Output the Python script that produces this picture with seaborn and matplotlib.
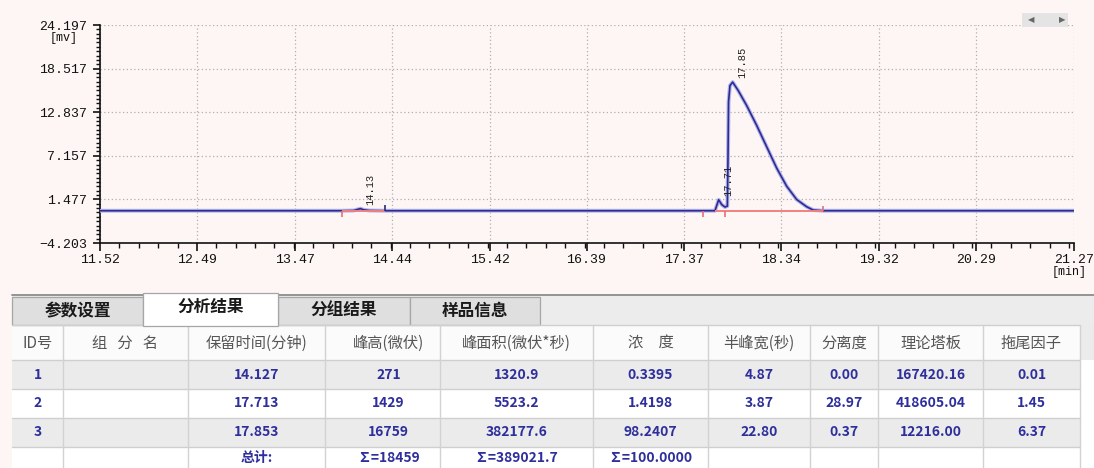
import matplotlib
matplotlib.use("Agg")
import matplotlib.pyplot as plt
from matplotlib.patches import Rectangle
from matplotlib.ticker import AutoMinorLocator
import pandas as pd
import seaborn as sns

# ---------------- chromatogram trace (min, mV) ----------------
time_min = [11.52, 13.94, 14.06, 14.10, 14.127, 14.16, 14.22, 14.37,
            17.55, 17.676, 17.713, 17.743, 17.776, 17.800, 17.806, 17.812,
            17.826, 17.853, 17.909, 17.993, 18.093, 18.193, 18.294, 18.394,
            18.494, 18.594, 18.66, 18.76, 21.27]
signal_mv = [0.0, 0.0, 0.03, 0.18, 0.271, 0.12, 0.03, 0.0,
             0.0, 0.0, 1.429, 0.81, 0.48, 0.60, 6.4, 14.2,
             16.3, 16.759, 15.65, 13.71, 11.13, 8.35, 5.55, 3.19,
             1.46, 0.52, 0.09, 0.0, 0.0]

# integration baselines and event marks
baseline_start = [13.94, 17.68]
baseline_end = [14.37, 18.76]
event_time = [13.94, 14.37, 17.556, 17.776, 18.757]
event_side = [-0.8, 0.7, -0.8, -0.8, 0.6]
event_color = ["#e87070", "#2a2a80", "#e87070", "#e87070", "#e87070"]

x_tick_labels = ["11.52", "12.49", "13.47", "14.44", "15.42", "16.39",
                 "17.37", "18.34", "19.32", "20.29", "21.27"]
y_tick_labels = ["-4.203", "1.477", "7.157", "12.837", "18.517", "24.197"]

# ---------------- peak table ----------------
peak_id = [1, 2, 3]
peak_rt = [14.127, 17.713, 17.853]
peak_height_uv = [271, 1429, 16759]
peak_area = [1320.9, 5523.2, 382177.6]
peak_conc = [0.3395, 1.4198, 98.2407]
half_width_s = [4.87, 3.87, 22.80]
resolution = [0.00, 28.97, 0.37]
plates = [167420.16, 418605.04, 12216.00]
tailing = [0.01, 1.45, 6.37]

tab_names = ["参数设置", "分析结果", "分组结果", "样品信息"]
col_names = ["ID号", "组   分   名", "保留时间(分钟)", "峰高(微伏)", "峰面积(微伏*秒)",
             "浓　度", "半峰宽(秒)", "分离度", "理论塔板", "拖尾因子"]
total_label = "总计:"

# ---------------- style ----------------
sns.set_style("white")
plt.rcParams["font.family"] = ["Noto Sans CJK SC", "DejaVu Sans"]
MONO = ["Liberation Mono", "DejaVu Sans Mono"]
BG = "#fdf6f4"
NAVY = "#2e2e9c"

W, H = 1094, 468
fig = plt.figure(figsize=(W / 100, H / 100), dpi=100, facecolor=BG)

# chart area in pixel terms
L, R, T, B = 100, 1074, 25, 243
ax = fig.add_axes([L / W, 1 - B / H, (R - L) / W, (B - T) / H])
ax.set_facecolor(BG)

trace = pd.DataFrame({"time": time_min, "signal": signal_mv})
sns.lineplot(data=trace, x="time", y="signal", ax=ax, color="#b4b4ec",
             linewidth=2.8, sort=False, estimator=None, errorbar=None, zorder=3)
sns.lineplot(data=trace, x="time", y="signal", ax=ax, color="#2c2c90",
             linewidth=1.2, sort=False, estimator=None, errorbar=None, zorder=4)

ax.hlines([0] * len(baseline_start), baseline_start, baseline_end,
          color="#f08080", linewidth=1.4, zorder=5)
for t, s, c in zip(event_time, event_side, event_color):
    ax.vlines(t, 0, s, color=c, linewidth=1.2, zorder=5)

for rt, h in zip(peak_rt, peak_height_uv):
    ax.annotate(f"{rt:.2f}", xy=(rt, h / 1000), xytext=(10, 4),
                textcoords="offset pixels", rotation=90, ha="center",
                va="bottom", fontsize=7.5, family=MONO, color="#222222",
                zorder=6)

xt = [float(v) for v in x_tick_labels]
yt = [float(v) for v in y_tick_labels]
ax.set_xlim(xt[0], xt[-1])
ax.set_ylim(yt[0], yt[-1])
ax.set_xticks(xt)
ax.set_xticklabels(x_tick_labels)
ax.set_yticks(yt)
ax.set_yticklabels([v.replace("-", "\u2212") for v in y_tick_labels])
ax.xaxis.set_minor_locator(AutoMinorLocator(5))
ax.yaxis.set_minor_locator(AutoMinorLocator(10))
ax.set_xlabel("")
ax.set_ylabel("")

ax.grid(True, which="major", color="#b0b0b0", linestyle=(0, (1, 2)),
        linewidth=0.9, zorder=1)
for side in ["top", "right"]:
    ax.spines[side].set_visible(False)
for side in ["left", "bottom"]:
    ax.spines[side].set_color("#111111")
    ax.spines[side].set_linewidth(1.2)

ax.tick_params(axis="x", which="both", bottom=True, top=False)
ax.tick_params(axis="y", which="both", left=True, right=False)
ax.tick_params(axis="x", which="major", direction="out", length=6, width=1.2,
               pad=2, labelsize=9.5, colors="#111111")
ax.tick_params(axis="x", which="minor", direction="out", length=3.5, width=1.0,
               colors="#111111")
ax.tick_params(axis="y", which="major", direction="out", length=5, width=1.2,
               pad=4, labelsize=9.5, colors="#111111")
ax.tick_params(axis="y", which="minor", direction="out", length=3, width=1.0,
               colors="#111111")
for lab in ax.get_xticklabels() + ax.get_yticklabels():
    lab.set_fontfamily(MONO)

fig.text(64 / W, 1 - 38 / H, "[mv]", ha="center", va="center",
         fontsize=8.5, family=MONO, color="#111111")
fig.text(1069 / W, 1 - 272 / H, "[min]", ha="center", va="center",
         fontsize=8.5, family=MONO, color="#111111")

# ---------------- overlay in pixel coordinates: scroll widget + table ----------------
ov = fig.add_axes([0, 0, 1, 1])
ov.set_xlim(0, W)
ov.set_ylim(H, 0)
ov.set_facecolor("none")
ov.axis("off")

ov.add_patch(Rectangle((1022, 13), 46, 14, fc="#e4e4e4", ec="none"))
ov.text(1031, 20, "\u25c0", ha="center", va="center", fontsize=6,
        color="#666666", family=["DejaVu Sans"])
ov.text(1062, 20, "\u25b6", ha="center", va="center", fontsize=6,
        color="#666666", family=["DejaVu Sans"])

# tab strip
ov.add_patch(Rectangle((12, 295), W - 12, 30, fc="#ececec", ec="none"))
ov.plot([12, W], [295, 295], color="#8c8c8c", lw=1.3)
tab_edges = [12, 143, 278, 410, 540]
active_tab = 1
for i, name in enumerate(tab_names):
    x0, x1 = tab_edges[i], tab_edges[i + 1]
    if i == active_tab:
        ov.add_patch(Rectangle((x0, 293), x1 - x0, 33, fc="white",
                               ec="#a6a6a6", lw=0.9, zorder=3))
        ty = 307
    else:
        ov.add_patch(Rectangle((x0, 297), x1 - x0, 28, fc="#dfdfdf",
                               ec="#a6a6a6", lw=0.9, zorder=2))
        ty = 311
    ov.text((x0 + x1) / 2, ty, name, ha="center", va="center", fontsize=12,
            fontweight="bold", color="#1a1a1a", zorder=4)

# table grid
col_edges = [12, 63, 188, 325, 440, 593, 708, 810, 878, 983, 1080]
row_edges = [325, 360, 389, 418, 447, 476]
row_fill = ["#fbfbfb", "#ebebeb", "#ffffff", "#ebebeb", "#ffffff"]
for r, fc in enumerate(row_fill):
    y0, y1 = row_edges[r], row_edges[r + 1]
    ov.add_patch(Rectangle((12, y0), col_edges[-1] - 12, y1 - y0, fc=fc,
                           ec="none", zorder=1))
ov.add_patch(Rectangle((col_edges[-1], 325), W - col_edges[-1], 35,
                       fc="#ebebeb", ec="none", zorder=1))
ov.add_patch(Rectangle((col_edges[-1], 360), W - col_edges[-1], H - 360,
                       fc="#ffffff", ec="none", zorder=1))
for y in row_edges[:-1]:
    ov.plot([12, col_edges[-1]], [y, y], color="#cfcfcf", lw=1.0, zorder=2)
for x in col_edges[1:]:
    ov.plot([x, x], [325, H], color="#d2d2d2", lw=1.0, zorder=2)

col_centers = [(a + b) / 2 for a, b in zip(col_edges[:-1], col_edges[1:])]
col_centers[3] += 6
row_centers = [343, 375, 403, 432, 458]

for cx, name in zip(col_centers, col_names):
    ov.text(cx, row_centers[0], name, ha="center", va="center",
            fontsize=11, color="#555555", zorder=3)

rows = zip(peak_id, peak_rt, peak_height_uv, peak_area, peak_conc,
           half_width_s, resolution, plates, tailing)
for r, (pid, rt, hgt, area, conc, hw, res, npl, tf) in enumerate(rows):
    cells = [f"{pid}", "", f"{rt:.3f}", f"{hgt}", f"{area:.1f}", f"{conc:.4f}",
             f"{hw:.2f}", f"{res:.2f}", f"{npl:.2f}", f"{tf:.2f}"]
    for cx, s in zip(col_centers, cells):
        ov.text(cx, row_centers[r + 1], s, ha="center", va="center",
                fontsize=10, fontweight="bold", color=NAVY, zorder=3)

totals = ["", "", total_label,
          f"\u2211={sum(peak_height_uv)}",
          f"\u2211={sum(peak_area):.1f}",
          f"\u2211={sum(peak_conc):.4f}"]
for cx, s in zip(col_centers, totals):
    ov.text(cx, row_centers[4], s, ha="center", va="center", fontsize=10,
            fontweight="bold", color=NAVY, zorder=3)

fig.savefig("out.png", dpi=100, facecolor=BG)
